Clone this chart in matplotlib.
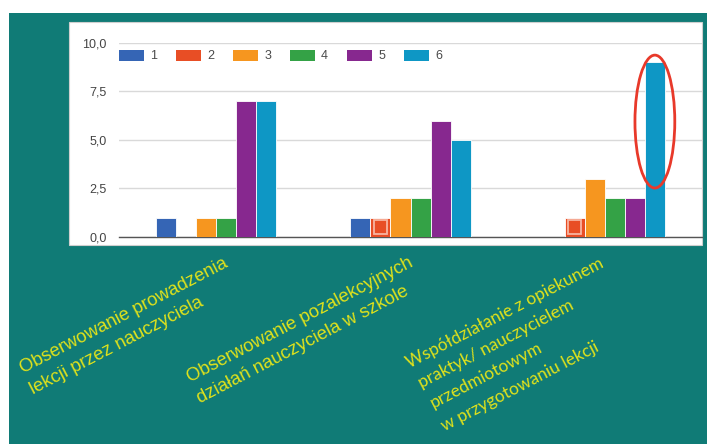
import numpy as np
import matplotlib.pyplot as plt
from matplotlib.patches import Rectangle, Ellipse, Patch

W, H = 707, 444

categories = ["Obserwowanie prowadzenia\nlekcji przez nauczyciela",
              "Obserwowanie pozalekcyjnych\ndziałań nauczyciela w szkole",
              "Współdziałanie z opiekunem\npraktyk/ nauczycielem\nprzedmiotowym\nw przygotowaniu lekcji"]
series_names = ["1", "2", "3", "4", "5", "6"]
s1 = [1, 1, 0]
s2 = [0, 1, 1]
s3 = [1, 2, 3]
s4 = [1, 2, 2]
s5 = [7, 6, 2]
s6 = [7, 5, 9]
yticks = [0, 2.5, 5, 7.5, 10]

colors = ["#3565b5", "#e84e25", "#f6961f", "#34a246", "#87288f", "#0e97c5"]
teal = "#107b76"
yellow = "#dfe21c"

def px(x, y):
    return x / W, 1 - y / H

fig = plt.figure(figsize=(W / 100, H / 100), dpi=100, facecolor="white")

# teal slide background and white chart panel (behind the axes)
fig.patches.append(Rectangle(px(9, 444), (W - 9) / W, (444 - 13) / H,
                             transform=fig.transFigure, facecolor=teal, edgecolor="none", zorder=-2))
fig.patches.append(Rectangle(px(69, 245), (702 - 69) / W, (245 - 22) / H,
                             transform=fig.transFigure, facecolor="white", edgecolor="#cfcfcf",
                             linewidth=0.8, zorder=-1))

ax = fig.add_axes([119 / W, (H - 237) / H, (702 - 119) / W, 194 / H])
ax.set_facecolor("none")

data = [s1, s2, s3, s4, s5, s6]
x = np.arange(len(categories))
bw = 0.103
for i, vals in enumerate(data):
    off = (i - 2.5) * bw
    ax.bar(x + off, vals, width=bw, color=colors[i], edgecolor="white", linewidth=0.6, zorder=3)

# highlighted squares on series 2
for j in [1, 2]:
    xc = x[j] + (1 - 2.5) * bw
    ax.add_patch(Rectangle((xc - bw * 0.32, 0.15), bw * 0.64, s2[j] * 0.72,
                           facecolor="none", edgecolor="#f7b4a0", linewidth=1.3, zorder=4))

# red ellipse around the tallest bar
ax.add_patch(Ellipse((x[2] + 2.5 * bw, 5.95), 0.205, 6.85, facecolor="none",
                     edgecolor="#e8392a", linewidth=2, zorder=5, clip_on=False))

ax.set_xlim(-0.5, 2.5)
ax.set_ylim(0, 10)
ax.set_yticks(yticks)
ax.set_yticklabels([f"{v:.1f}".replace(".", ",") for v in yticks], fontsize=9, color="#444444",
                   family="Liberation Sans")
ax.set_xticks([])
ax.tick_params(axis="y", length=0, pad=9)
ax.grid(axis="y", color="#d9d9d9", linewidth=1, zorder=0)
for s in ["top", "right", "left"]:
    ax.spines[s].set_visible(False)
ax.spines["bottom"].set_color("#555555")
ax.spines["bottom"].set_linewidth(1)

handles = [Patch(facecolor=c, edgecolor="none") for c in colors]
ax.legend(handles, series_names, ncol=6, loc="center left", bbox_to_anchor=(0.0, 1 - 13 / 194),
          frameon=False, borderpad=0, borderaxespad=0, handlelength=2.0, handleheight=1.0,
          handletextpad=0.5, columnspacing=1.5,
          prop={"family": "Liberation Sans", "size": 9}, labelcolor="#4a4a4a")

# rotated category labels on the teal background
angle = 27.5
label_lines = [
    (categories[0].split("\n"), [(23, 373), (33, 394)], "Liberation Sans", 13.3),
    (categories[1].split("\n"), [(190, 382), (200, 403)], "Liberation Sans", 13.3),
    (categories[2].split("\n"), [(410, 368), (422, 388), (433, 408), (445, 431)], "Lato", 12.5),
]
for lines, starts, fam, fs in label_lines:
    for line, (lx, ly) in zip(lines, starts):
        fx, fy = px(lx, ly)
        fig.text(fx, fy, line, rotation=angle, rotation_mode="anchor", ha="left", va="baseline",
                 color=yellow, fontsize=fs, family=fam, zorder=6)

fig.savefig("out.png", dpi=100, facecolor="white")
